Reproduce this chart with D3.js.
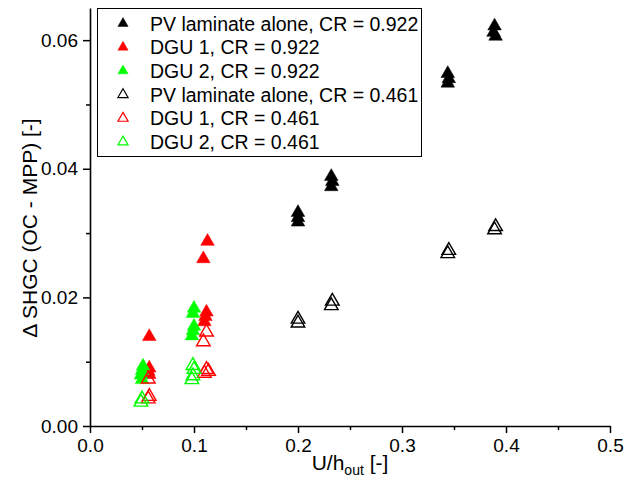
<!DOCTYPE html>
<html>
<head>
<meta charset="utf-8">
<script src="https://cdn.jsdelivr.net/npm/d3@7"></script>
<style>
  body { margin: 0; background: #fff; }
  svg { font-family: "Liberation Sans", Arial, sans-serif; }
</style>
</head>
<body>
<div id="chart"></div>
<script>
// series data: x = U/h_out, y = delta SHGC
const pvHighX = [0.2, 0.2, 0.2, 0.232, 0.233, 0.232, 0.344, 0.345, 0.344, 0.389, 0.388, 0.39];
const pvHighY = [0.0332, 0.0324, 0.0317, 0.0388, 0.0380, 0.0372, 0.0548, 0.0540, 0.0533, 0.0622, 0.0612, 0.0606];

const dgu1HighX = [0.057, 0.057, 0.056, 0.057, 0.109, 0.113, 0.112, 0.111, 0.110];
const dgu1HighY = [0.0139, 0.0090, 0.0085, 0.0080, 0.0260, 0.0287, 0.0177, 0.0170, 0.0162];

const dgu2HighX = [0.051, 0.050, 0.049, 0.050, 0.100, 0.099, 0.100, 0.099, 0.098];
const dgu2HighY = [0.0093, 0.0086, 0.0079, 0.0072, 0.0183, 0.0175, 0.0155, 0.0148, 0.0140];

const pvLowX = [0.2, 0.2, 0.233, 0.232, 0.345, 0.344, 0.39, 0.389];
const pvLowY = [0.0166, 0.0160, 0.0194, 0.0187, 0.0273, 0.0268, 0.0310, 0.0305];

const dgu1LowX = [0.056, 0.057, 0.056, 0.112, 0.109, 0.112, 0.110, 0.114];
const dgu1LowY = [0.0073, 0.0046, 0.0042, 0.0146, 0.0131, 0.0088, 0.0082, 0.0085];

const dgu2LowX = [0.050, 0.049, 0.099, 0.100, 0.099, 0.098];
const dgu2LowY = [0.0042, 0.0037, 0.0094, 0.0088, 0.0078, 0.0072];

const seriesNames = [
  "PV laminate alone, CR = 0.922", "DGU 1, CR = 0.922", "DGU 2, CR = 0.922",
  "PV laminate alone, CR = 0.461", "DGU 1, CR = 0.461", "DGU 2, CR = 0.461"
];
const xTicks = [0, 0.1, 0.2, 0.3, 0.4, 0.5];
const yTicks = [0, 0.02, 0.04, 0.06];

const series = [
  {x: pvHighX, y: pvHighY, color: "#000000", filled: true},
  {x: dgu1HighX, y: dgu1HighY, color: "#ff0000", filled: true},
  {x: dgu2HighX, y: dgu2HighY, color: "#00ff00", filled: true},
  {x: pvLowX, y: pvLowY, color: "#000000", filled: false},
  {x: dgu1LowX, y: dgu1LowY, color: "#ff0000", filled: false},
  {x: dgu2LowX, y: dgu2LowY, color: "#00ff00", filled: false}
];

const W = 633, H = 496;
const margin = {top: 8, right: 23, bottom: 70, left: 90};

const svg = d3.select("#chart").append("svg")
  .attr("width", W).attr("height", H);

const xScale = d3.scaleLinear().domain([0, 0.5]).range([margin.left, W - margin.right]);
const yScale = d3.scaleLinear().domain([0, 0.065]).range([H - margin.bottom, margin.top]);

// minor ticks
svg.append("g")
  .attr("transform", `translate(0, ${H - margin.bottom})`)
  .call(d3.axisBottom(xScale).tickValues([0.05, 0.15, 0.25, 0.35, 0.45]).tickSize(4).tickFormat(""))
  .call(g => g.select(".domain").remove())
  .selectAll("line").attr("stroke-width", 1.5);
svg.append("g")
  .attr("transform", `translate(${margin.left}, 0)`)
  .call(d3.axisLeft(yScale).tickValues([0.01, 0.03, 0.05]).tickSize(4).tickFormat(""))
  .call(g => g.select(".domain").remove())
  .selectAll("line").attr("stroke-width", 1.5);

// major axes
const xAxis = svg.append("g")
  .attr("transform", `translate(0, ${H - margin.bottom})`)
  .style("font-size", "19px")
  .call(d3.axisBottom(xScale).tickValues(xTicks).tickSize(7).tickSizeOuter(0).tickPadding(6).tickFormat(d3.format(".1f")));
const yAxis = svg.append("g")
  .attr("transform", `translate(${margin.left}, 0)`)
  .style("font-size", "19px")
  .call(d3.axisLeft(yScale).tickValues(yTicks).tickSize(7).tickSizeOuter(0).tickPadding(5).tickFormat(d3.format(".2f")));
[xAxis, yAxis].forEach(a => {
  a.attr("font-family", null);
  a.select(".domain").attr("stroke-width", 1.6);
  a.selectAll(".tick line").attr("stroke-width", 1.5);
  a.selectAll(".tick text").attr("fill", "#000");
});

// axis titles
const xt = svg.append("text")
  .attr("x", 350).attr("y", 470)
  .attr("text-anchor", "middle")
  .style("font-size", "21px");
xt.append("tspan").text("U/h");
xt.append("tspan").attr("dy", 5).style("font-size", "14px").text("out");
xt.append("tspan").attr("dy", -5).text(" [-]");

svg.append("text")
  .attr("transform", `translate(37, 228) rotate(-90)`)
  .attr("text-anchor", "middle")
  .style("font-size", "21px")
  .text("\u0394 SHGC (OC - MPP) [-]");

// points
const tri = d3.symbol().type(d3.symbolTriangle);
series.forEach(s => {
  const pts = s.x.map((v, i) => [v, s.y[i]]);
  svg.append("g").selectAll("path")
    .data(pts)
    .enter()
    .append("path")
      .attr("d", tri.size(80)())
      .attr("transform", d => `translate(${xScale(d[0])}, ${yScale(d[1])})`)
      .attr("fill", s.filled ? s.color : "none")
      .attr("stroke", s.color)
      .attr("stroke-width", s.filled ? 0.5 : 1.4);
});

// legend
const legend = svg.append("g");
legend.append("rect")
  .attr("x", 97.5).attr("y", 8.5)
  .attr("width", 324).attr("height", 148)
  .attr("fill", "#fff").attr("stroke", "#000").attr("stroke-width", 1);
seriesNames.forEach((name, i) => {
  const s = series[i];
  const cy = 23.5 + i * 23.7;
  legend.append("path")
    .attr("d", d3.symbol().type(d3.symbolTriangle).size(45)())
    .attr("transform", `translate(123, ${cy})`)
    .attr("fill", s.filled ? s.color : "none")
    .attr("stroke", s.color)
    .attr("stroke-width", s.filled ? 0.5 : 1.2);
  legend.append("text")
    .attr("x", 150).attr("y", cy)
    .attr("dy", "0.36em")
    .style("font-size", "19.5px")
    .text(name);
});
</script>
</body>
</html>
